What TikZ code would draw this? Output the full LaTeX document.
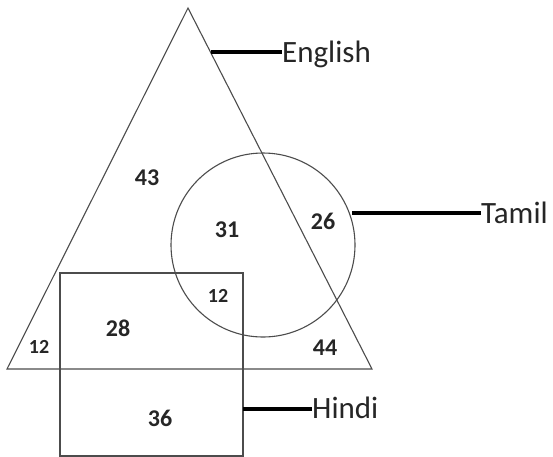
\documentclass[tikz,border=0pt]{standalone}
\usepackage{fontspec}
\setmainfont{Carlito}
\begin{document}
\begin{tikzpicture}[x=1pt,y=-1pt,
  shapeline/.style={draw=black!70, line width=1.1pt},
  rectline/.style={draw=black!70, line width=1.5pt},
  leader/.style={line width=3.6pt, black},
  lbl/.style={font=\fontsize{31}{31}\selectfont, text=black!85, anchor=base west, inner sep=0pt},
  num/.style={font=\bfseries\fontsize{24}{24}\selectfont, text=black!85, inner sep=0pt},
  smallnum/.style={font=\bfseries\fontsize{20}{20}\selectfont, text=black!85, inner sep=0pt}]
\useasboundingbox (0,0) rectangle (553,456);
% shapes
\coordinate (apex) at (188,8);
\coordinate (bl) at (7,369);
\coordinate (br) at (372,369);
\draw[shapeline] (apex) -- (bl) -- (br) -- cycle;
\draw[shapeline] (263,245) circle[radius=92];
\draw[rectline] (60,273) rectangle (243,456);
% anchor points on shapes
\coordinate (engpt) at (211,52);
\coordinate (tampt) at (352,213);
\coordinate (hinpt) at (243,409);
% labels
\node[lbl] (english) at (282,62) {English};
\node[lbl] (tamil) at (481,223) {Tamil};
\node[lbl] (hindi) at (312,418) {Hindi};
\draw[leader] (engpt) -- (english.west |- engpt);
\draw[leader] (tampt) -- (tamil.west |- tampt);
\draw[leader] (hinpt) -- (hindi.west |- hinpt);
% numbers
\node[num] (n43) at (147,178) {43};
\node[num] (n31) at (227,230) {31};
\node[num] (n26) at (323,221) {26};
\node[smallnum] (n12a) at (218,296) {12};
\node[num] (n28) at (118,328) {28};
\node[smallnum] (n12b) at (39,347) {12};
\node[num] (n44) at (325,348) {44};
\node[num] (n36) at (160,418) {36};
\end{tikzpicture}
\end{document}
